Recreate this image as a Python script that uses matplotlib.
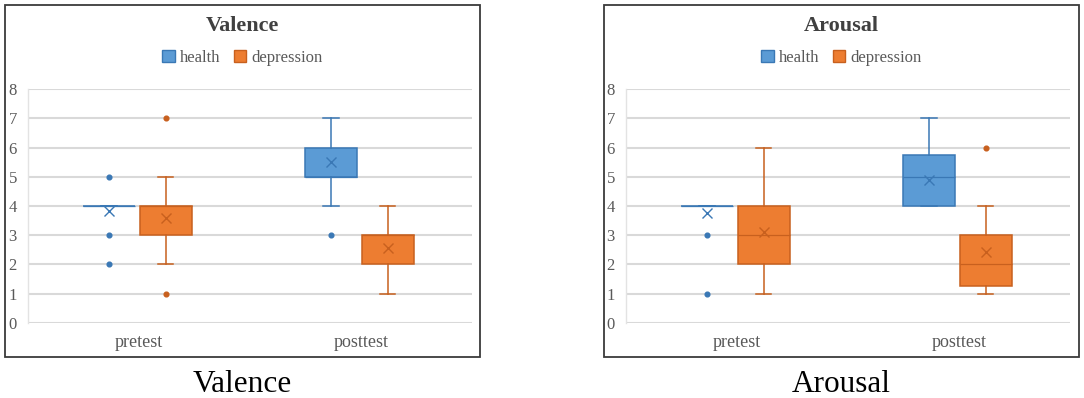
#!/usr/bin/env python3

import matplotlib
matplotlib.use('Agg')
from matplotlib import pyplot as plt
from matplotlib.patches import Patch, Rectangle

plt.rcParams['font.family'] = ['Liberation Serif', 'DejaVu Serif']

categories = ['pretest', 'posttest']
groups = ['health', 'depression']

# each stat: [health, depression], each of them [pretest, posttest]
valence_q1 = [[4, 5], [3, 2]]
valence_med = [[4, 5], [4, 3]]
valence_q3 = [[4, 6], [4, 3]]
valence_wlo = [[4, 4], [2, 1]]
valence_whi = [[4, 7], [5, 4]]
valence_mean = [[3.83, 5.5], [3.6, 2.57]]
valence_fliers = [[[5, 3, 2], [3]], [[7, 1], []]]

arousal_q1 = [[4, 4], [2, 1.25]]
arousal_med = [[4, 5], [3, 2]]
arousal_q3 = [[4, 5.75], [4, 3]]
arousal_wlo = [[4, 4], [1, 1]]
arousal_whi = [[4, 7], [6, 4]]
arousal_mean = [[3.75, 4.89], [3.1, 2.43]]
arousal_fliers = [[[3, 1], []], [[], [6]]]

fills = ['#5B9BD5', '#ED7D31']
edges = ['#3A78B5', '#C8601E']
offsets = [-0.135, 0.12]

W, H = 1084, 398
fig = plt.figure(figsize=(W / 100, H / 100), dpi=100)


def draw_panel(ax_left, q1, med, q3, wlo, whi, mean, fliers, name, px0, px1):
    ax = fig.add_axes([ax_left / W, 1 - 322.7 / H, 444 / W, 233.4 / H])
    for g in range(2):
        stats = []
        for c in range(2):
            stats.append({'q1': q1[g][c], 'med': med[g][c], 'q3': q3[g][c],
                          'whislo': wlo[g][c], 'whishi': whi[g][c],
                          'mean': mean[g][c], 'fliers': fliers[g][c]})
        pos = [c + offsets[g] for c in range(2)]
        ax.bxp(stats, positions=pos, widths=0.235, patch_artist=True,
               showmeans=True, capwidths=0.068, manage_ticks=False,
               boxprops=dict(facecolor=fills[g], edgecolor=edges[g], linewidth=1.1),
               medianprops=dict(color=edges[g], linewidth=0.9),
               whiskerprops=dict(color=edges[g], linewidth=1.1),
               capprops=dict(color=edges[g], linewidth=1.1),
               meanprops=dict(marker='x', markeredgecolor=edges[g],
                              markersize=7, markeredgewidth=1.0),
               flierprops=dict(marker='o', markerfacecolor=edges[g],
                               markeredgecolor=edges[g], markersize=3.4))

    ax.set_xlim(-0.5, 1.5)
    ax.set_ylim(0, 8)
    ax.set_yticks(range(9))
    ax.set_xticks(range(len(categories)))
    ax.set_xticklabels(categories)
    ax.tick_params(axis='both', length=0, labelsize=12, colors='#595959')
    ax.tick_params(axis='x', labelsize=13, pad=8)
    ax.tick_params(axis='y', pad=8)
    ax.grid(axis='y', color='#D9D9D9', linewidth=1.5)
    ax.set_axisbelow(True)
    for s in ['top', 'right', 'bottom']:
        ax.spines[s].set_visible(False)
    ax.spines['left'].set_color('#E3E3E3')
    ax.spines['left'].set_linewidth(1.0)

    cx = (px0 + px1) / 2 / W
    fig.text(cx, 1 - 30.7 / H, name, ha='center', va='baseline',
             fontsize=16, fontweight='bold', color='#404040')
    handles = [Patch(facecolor=fills[g], edgecolor=edges[g], label=groups[g]) for g in range(2)]
    fig.legend(handles=handles, loc='center', bbox_to_anchor=(cx, 1 - 58 / H),
               ncol=2, frameon=False, fontsize=12, handlelength=0.75,
               handleheight=0.75, handletextpad=0.3, columnspacing=0.8,
               labelcolor='#595959')
    fig.add_artist(Rectangle((px0 / W, 1 - 357 / H), (px1 - px0) / W, 352 / H,
                             transform=fig.transFigure, fill=False,
                             edgecolor='#3A3A3A', linewidth=1.3))
    fig.text(cx, 1 - 392 / H, name, ha='center', va='baseline', fontsize=22.5)


draw_panel(28, valence_q1, valence_med, valence_q3, valence_wlo, valence_whi,
           valence_mean, valence_fliers, 'Valence', 5, 480)
draw_panel(626, arousal_q1, arousal_med, arousal_q3, arousal_wlo, arousal_whi,
           arousal_mean, arousal_fliers, 'Arousal', 604, 1079)

plt.savefig('out.png', dpi=100)
